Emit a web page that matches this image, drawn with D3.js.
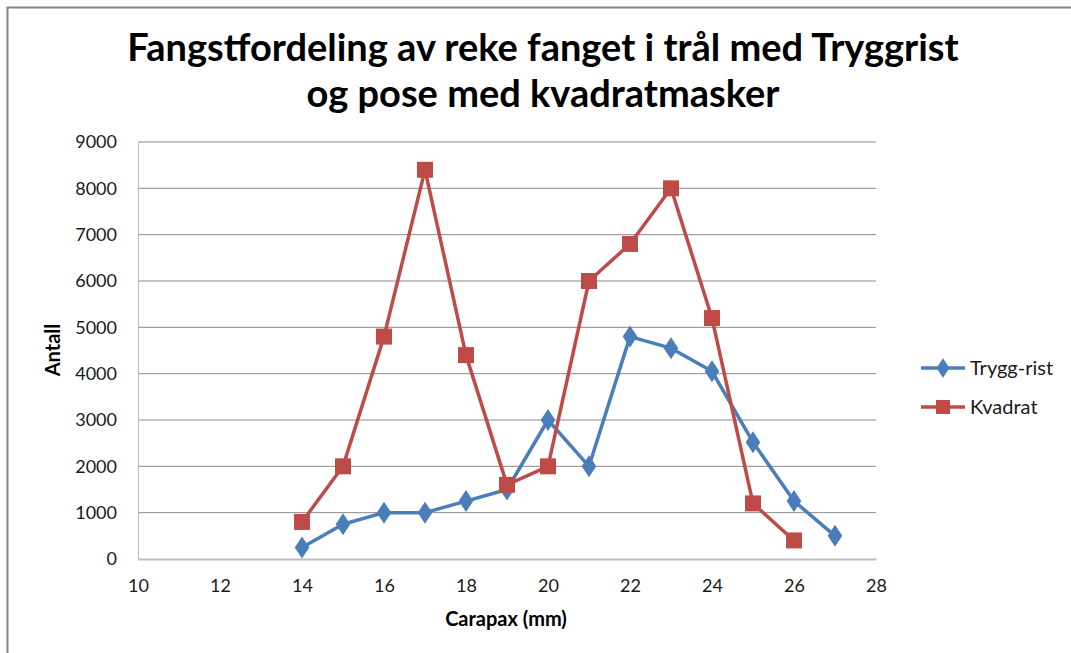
<!DOCTYPE html>
<html lang="en">
<head>
<meta charset="utf-8">
<title>Fangstfordeling</title>
<script src="https://cdn.jsdelivr.net/npm/d3@7"></script>
<style>
  body { margin: 0; background: #fff; }
  text { font-family: Lato, "Open Sans", sans-serif; }
</style>
</head>
<body>
<script>
// carapax length (mm)
let carapax = [14, 15, 16, 17, 18, 19, 20, 21, 22, 23, 24, 25, 26, 27]
let tryggRist = [250, 750, 1000, 1000, 1250, 1500, 3000, 2000, 4800, 4550, 4050, 2520, 1250, 500]
let kvadrat = [800, 2000, 4800, 8400, 4400, 1600, 2000, 6000, 6800, 8000, 5200, 1200, 400, null]
let seriesNames = ["Trygg-rist", "Kvadrat"]
let xTicks = [10, 12, 14, 16, 18, 20, 22, 24, 26, 28]
let yTicks = [0, 1000, 2000, 3000, 4000, 5000, 6000, 7000, 8000, 9000]
let titleLines = ["Fangstfordeling av reke fanget i trål med Tryggrist", "og pose med kvadratmasker"]

let w = 1071
let h = 653
let colors = ["#4a7ebb", "#be4b48"]

let svg = d3.select("body").append("svg")
  .attr("width", w)
  .attr("height", h)

// outer chart border
svg.append("rect")
  .attr("x", 7.5).attr("y", 7.5)
  .attr("width", w + 20).attr("height", h + 20)
  .attr("fill", "none")
  .attr("stroke", "#868686")
  .attr("stroke-width", 2)

let xScale = d3.scaleLinear().domain([10, 28]).range([138, 876])
let yScale = d3.scaleLinear().domain([0, 9000]).range([559, 142])

// gridlines
svg.append("g")
  .selectAll("line")
  .data(yTicks.filter(d => d > 0))
  .enter()
  .append("line")
  .attr("x1", xScale(10)).attr("x2", xScale(28))
  .attr("y1", d => yScale(d)).attr("y2", d => yScale(d))
  .attr("stroke", "#8a8a8a")
  .attr("stroke-width", 1)

let xAxis = d3.axisBottom(xScale).tickValues(xTicks).tickSize(0).tickPadding(20).tickFormat(d3.format("d"))
let yAxis = d3.axisLeft(yScale).tickValues(yTicks).tickSize(0).tickPadding(21).tickFormat(d3.format("d"))

let gx = svg.append("g")
  .attr("transform", "translate(0," + yScale(0) + ")")
  .call(xAxis)
gx.select(".domain").attr("stroke", "#bdbdbd").attr("stroke-width", 2)

let gy = svg.append("g")
  .attr("transform", "translate(" + xScale(10) + ",0)")
  .call(yAxis)
gy.select(".domain").attr("stroke", "#bdbdbd").attr("stroke-width", 1)

svg.selectAll(".tick text")
  .attr("font-size", 18)
  .attr("fill", "#1a1a1a")
  .style("font-family", "Lato, sans-serif")

// axis titles
svg.append("text")
  .attr("x", 506).attr("y", 626)
  .attr("text-anchor", "middle")
  .attr("font-size", 20).attr("font-weight", "bold")
  .text("Carapax (mm)")

svg.append("text")
  .attr("transform", "translate(60," + 350 + ") rotate(-90)")
  .attr("text-anchor", "middle")
  .attr("font-size", 20).attr("font-weight", "bold")
  .text("Antall")

// title
svg.append("g").selectAll("text")
  .data(titleLines)
  .enter()
  .append("text")
  .attr("x", 543)
  .attr("y", (d, i) => 61 + i * 46)
  .attr("text-anchor", "middle")
  .attr("font-size", 38)
  .attr("font-weight", "bold")
  .text(d => d)

let line = d3.line()
  .defined(d => d[1] != null)
  .x(d => xScale(d[0]))
  .y(d => yScale(d[1]))

let series = [tryggRist, kvadrat].map(vals => carapax.map((c, i) => [c, vals[i]]))

series.forEach(function(data, s) {
  svg.append("path")
    .datum(data)
    .attr("d", line)
    .attr("fill", "none")
    .attr("stroke", colors[s])
    .attr("stroke-width", 3.5)
    .attr("stroke-linejoin", "round")

  let pts = data.filter(d => d[1] != null)
  if (s === 0) {
    svg.append("g").selectAll("path")
      .data(pts)
      .enter()
      .append("path")
      .attr("d", d3.symbol().type(d3.symbolDiamond).size(140))
      .attr("transform", d => "translate(" + xScale(d[0]) + "," + yScale(d[1]) + ") scale(1.15,1)")
      .attr("fill", colors[s])
  } else {
    svg.append("g").selectAll("rect")
      .data(pts)
      .enter()
      .append("rect")
      .attr("x", d => xScale(d[0]) - 8)
      .attr("y", d => yScale(d[1]) - 8)
      .attr("width", 16).attr("height", 16)
      .attr("fill", colors[s])
  }
})

// legend
let legend = svg.append("g").selectAll("g")
  .data(seriesNames)
  .enter()
  .append("g")
  .attr("transform", (d, i) => "translate(921," + (368 + i * 39) + ")")

legend.append("line")
  .attr("x1", 0).attr("x2", 44)
  .attr("stroke", (d, i) => colors[i])
  .attr("stroke-width", 3.5)

legend.each(function(d, i) {
  let g = d3.select(this)
  if (i === 0) {
    g.append("path")
      .attr("d", d3.symbol().type(d3.symbolDiamond).size(110))
      .attr("transform", "translate(22,0) scale(1.15,1)")
      .attr("fill", colors[i])
  } else {
    g.append("rect")
      .attr("x", 15).attr("y", -7)
      .attr("width", 14).attr("height", 14)
      .attr("fill", colors[i])
  }
})

legend.append("text")
  .attr("x", 49).attr("y", 7)
  .attr("font-size", 20)
  .attr("fill", "#1a1a1a")
  .text(d => d)
</script>
</body>
</html>
